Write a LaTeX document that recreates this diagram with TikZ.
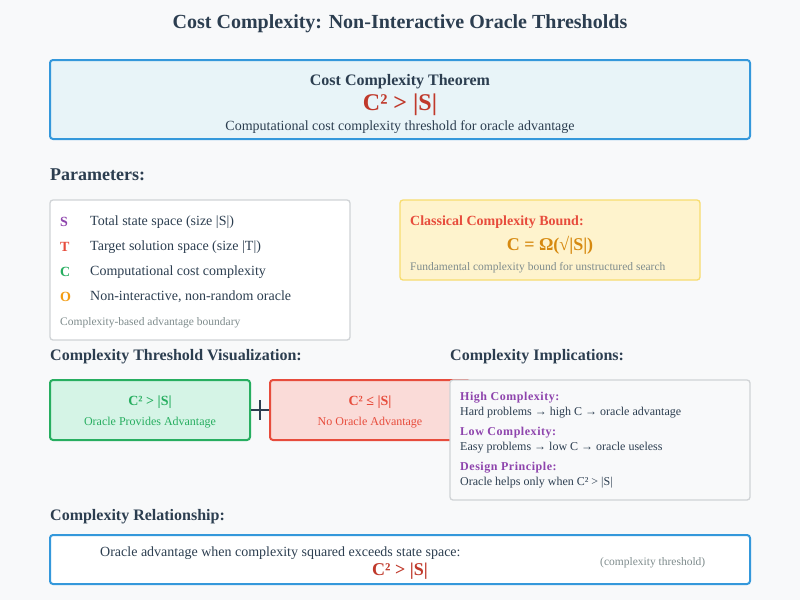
\documentclass[tikz,border=0pt]{standalone}
\usepackage{fontspec}
\setmainfont{Liberation Serif}
\definecolor{dark}{HTML}{2C3E50}
\definecolor{bblue}{HTML}{3498DB}
\definecolor{lblue}{HTML}{E8F4F8}
\definecolor{dred}{HTML}{C0392B}
\definecolor{bred}{HTML}{E74C3C}
\definecolor{purp}{HTML}{8E44AD}
\definecolor{grn}{HTML}{27AE60}
\definecolor{orng}{HTML}{F39C12}
\definecolor{dorng}{HTML}{D68910}
\definecolor{gtext}{HTML}{7F8C8D}
\definecolor{bg}{HTML}{F8F9FA}
\definecolor{yfill}{HTML}{FEF3CD}
\definecolor{ystroke}{HTML}{F7DC6F}
\definecolor{gfill}{HTML}{D5F4E6}
\definecolor{rfill}{HTML}{FADBD8}
\definecolor{gstroke}{HTML}{D0D3D6}
\tikzset{
  txt/.style={inner sep=0pt, text=dark, yshift=-2pt},
  box/.style={rounded corners=3pt, line width=2pt, inner sep=0pt},
}
\begin{document}
\begin{tikzpicture}[x=1pt,y=-1pt]
\useasboundingbox[fill=bg] (0,0) rectangle (800,600);
% title
\node[txt, font=\bfseries\fontsize{20}{24}\selectfont] (title) at (400,22) {Cost Complexity: Non-Interactive Oracle Thresholds};
% theorem box
\node[box, draw=bblue, fill=lblue, minimum width=700pt, minimum height=79pt] (thm) at (400,99.5) {};
\node[txt, font=\bfseries\fontsize{16}{18}\selectfont] (thmt) at (400,80) {Cost Complexity Theorem};
\node[txt, text=dred, font=\bfseries\fontsize{24}{26}\selectfont] (thmf) at (400,103) {C² > |S|};
\node[txt, font=\fontsize{14}{16}\selectfont] (thms) at (400,125) {Computational cost complexity threshold for oracle advantage};
% parameters
\node[txt, anchor=west, font=\bfseries\fontsize{18}{20}\selectfont] (parh) at (50,173) {Parameters:};
\node[box, line width=1.3pt, draw=gstroke, fill=white, minimum width=300pt, minimum height=140pt] (par) at (200,270) {};
\foreach \s/\c/\t/\y [count=\i] in {S/purp/{Total state space (size |S|)}/220, T/bred/{Target solution space (size |T|)}/245, C/grn/{Computational cost complexity}/270, O/orng/{Non-interactive, non-random oracle}/295}{
  \node[txt, anchor=west, text=\c, font=\bfseries\fontsize{14}{16}\selectfont] (ps\i) at (60,\y) {\s};
  \node[txt, anchor=west, font=\fontsize{14}{16}\selectfont] (pt\i) at (90,\y) {\t};
}
\node[txt, anchor=west, text=gtext, font=\fontsize{11.5}{13}\selectfont] (pfoot) at (60,321) {Complexity-based advantage boundary};
% classical box
\node[box, line width=1.3pt, draw=ystroke, fill=yfill, minimum width=300pt, minimum height=80pt] (cls) at (550,240) {};
\node[txt, anchor=west, text=bred, font=\bfseries\fontsize{14}{16}\selectfont] (clst) at (410,220) {Classical Complexity Bound:};
\node[txt, text=dorng, font=\bfseries\fontsize{18}{20}\selectfont] (clsf) at (550,243) {C = Ω(√|S|)};
\node[txt, anchor=west, text=gtext, font=\fontsize{11.5}{13}\selectfont] (clss) at (410,266) {Fundamental complexity bound for unstructured search};
% visualization
\node[txt, anchor=west, font=\bfseries\fontsize{16}{18}\selectfont] (vish) at (50,355) {Complexity Threshold Visualization:};
\node[txt, anchor=west, font=\bfseries\fontsize{16}{18}\selectfont] (imph) at (450,355) {Complexity Implications:};
\node[box, draw=grn, fill=gfill, minimum width=200pt, minimum height=60pt] (gb) at (150,410) {};
\node[txt, text=grn, font=\bfseries\fontsize{14}{16}\selectfont] (gbt) at (150,400) {C² > |S|};
\node[txt, text=grn, font=\fontsize{12}{14}\selectfont] (gbs) at (150,421) {Oracle Provides Advantage};
\node[box, draw=bred, fill=rfill, minimum width=200pt, minimum height=60pt] (rb) at (370,410) {};
\node[txt, text=bred, font=\bfseries\fontsize{14}{16}\selectfont] (rbt) at (370,400) {C² ≤ |S|};
\node[txt, text=bred, font=\fontsize{12}{14}\selectfont] (rbs) at (370,421) {No Oracle Advantage};
\draw[dark, line width=2pt] (gb.east) -- (rb.west);
\coordinate (pt) at (260,400);
\coordinate (pb) at (260,420);
\draw[dark, line width=2pt] (pt) -- (pb);
% implications
\node[box, line width=1.3pt, draw=gstroke, fill=bg, minimum width=300pt, minimum height=120pt] (imp) at (600,440) {};
\foreach \h/\t/\y [count=\i] in {{High Complexity:}/{Hard problems → high C → oracle advantage}/396, {Low Complexity:}/{Easy problems → low C → oracle useless}/431, {Design Principle:}/{Oracle helps only when C² > |S|}/466}{
  \node[txt, anchor=west, text=purp, font=\bfseries\fontsize{12}{14}\selectfont\addfontfeature{LetterSpace=4.5}] (ih\i) at (460,\y) {\h};
  \node[txt, anchor=west, font=\fontsize{12}{14}\selectfont] (it\i) at (460,\y+15) {\t};
}
% relationship
\node[txt, anchor=west, font=\bfseries\fontsize{16}{18}\selectfont] (relh) at (50,515) {Complexity Relationship:};
\node[box, draw=bblue, fill=white, minimum width=700pt, minimum height=49pt] (rel) at (400,559.5) {};
\node[txt, anchor=west, font=\fontsize{14}{16}\selectfont] (relt) at (100,551) {Oracle advantage when complexity squared exceeds state space:};
\node[txt, text=dred, font=\bfseries\fontsize{18}{20}\selectfont] (relf) at (400,569) {C² > |S|};
\node[txt, anchor=west, text=gtext, font=\fontsize{11.5}{13}\selectfont] (rels) at (600,561) {(complexity threshold)};
\end{tikzpicture}
\end{document}
